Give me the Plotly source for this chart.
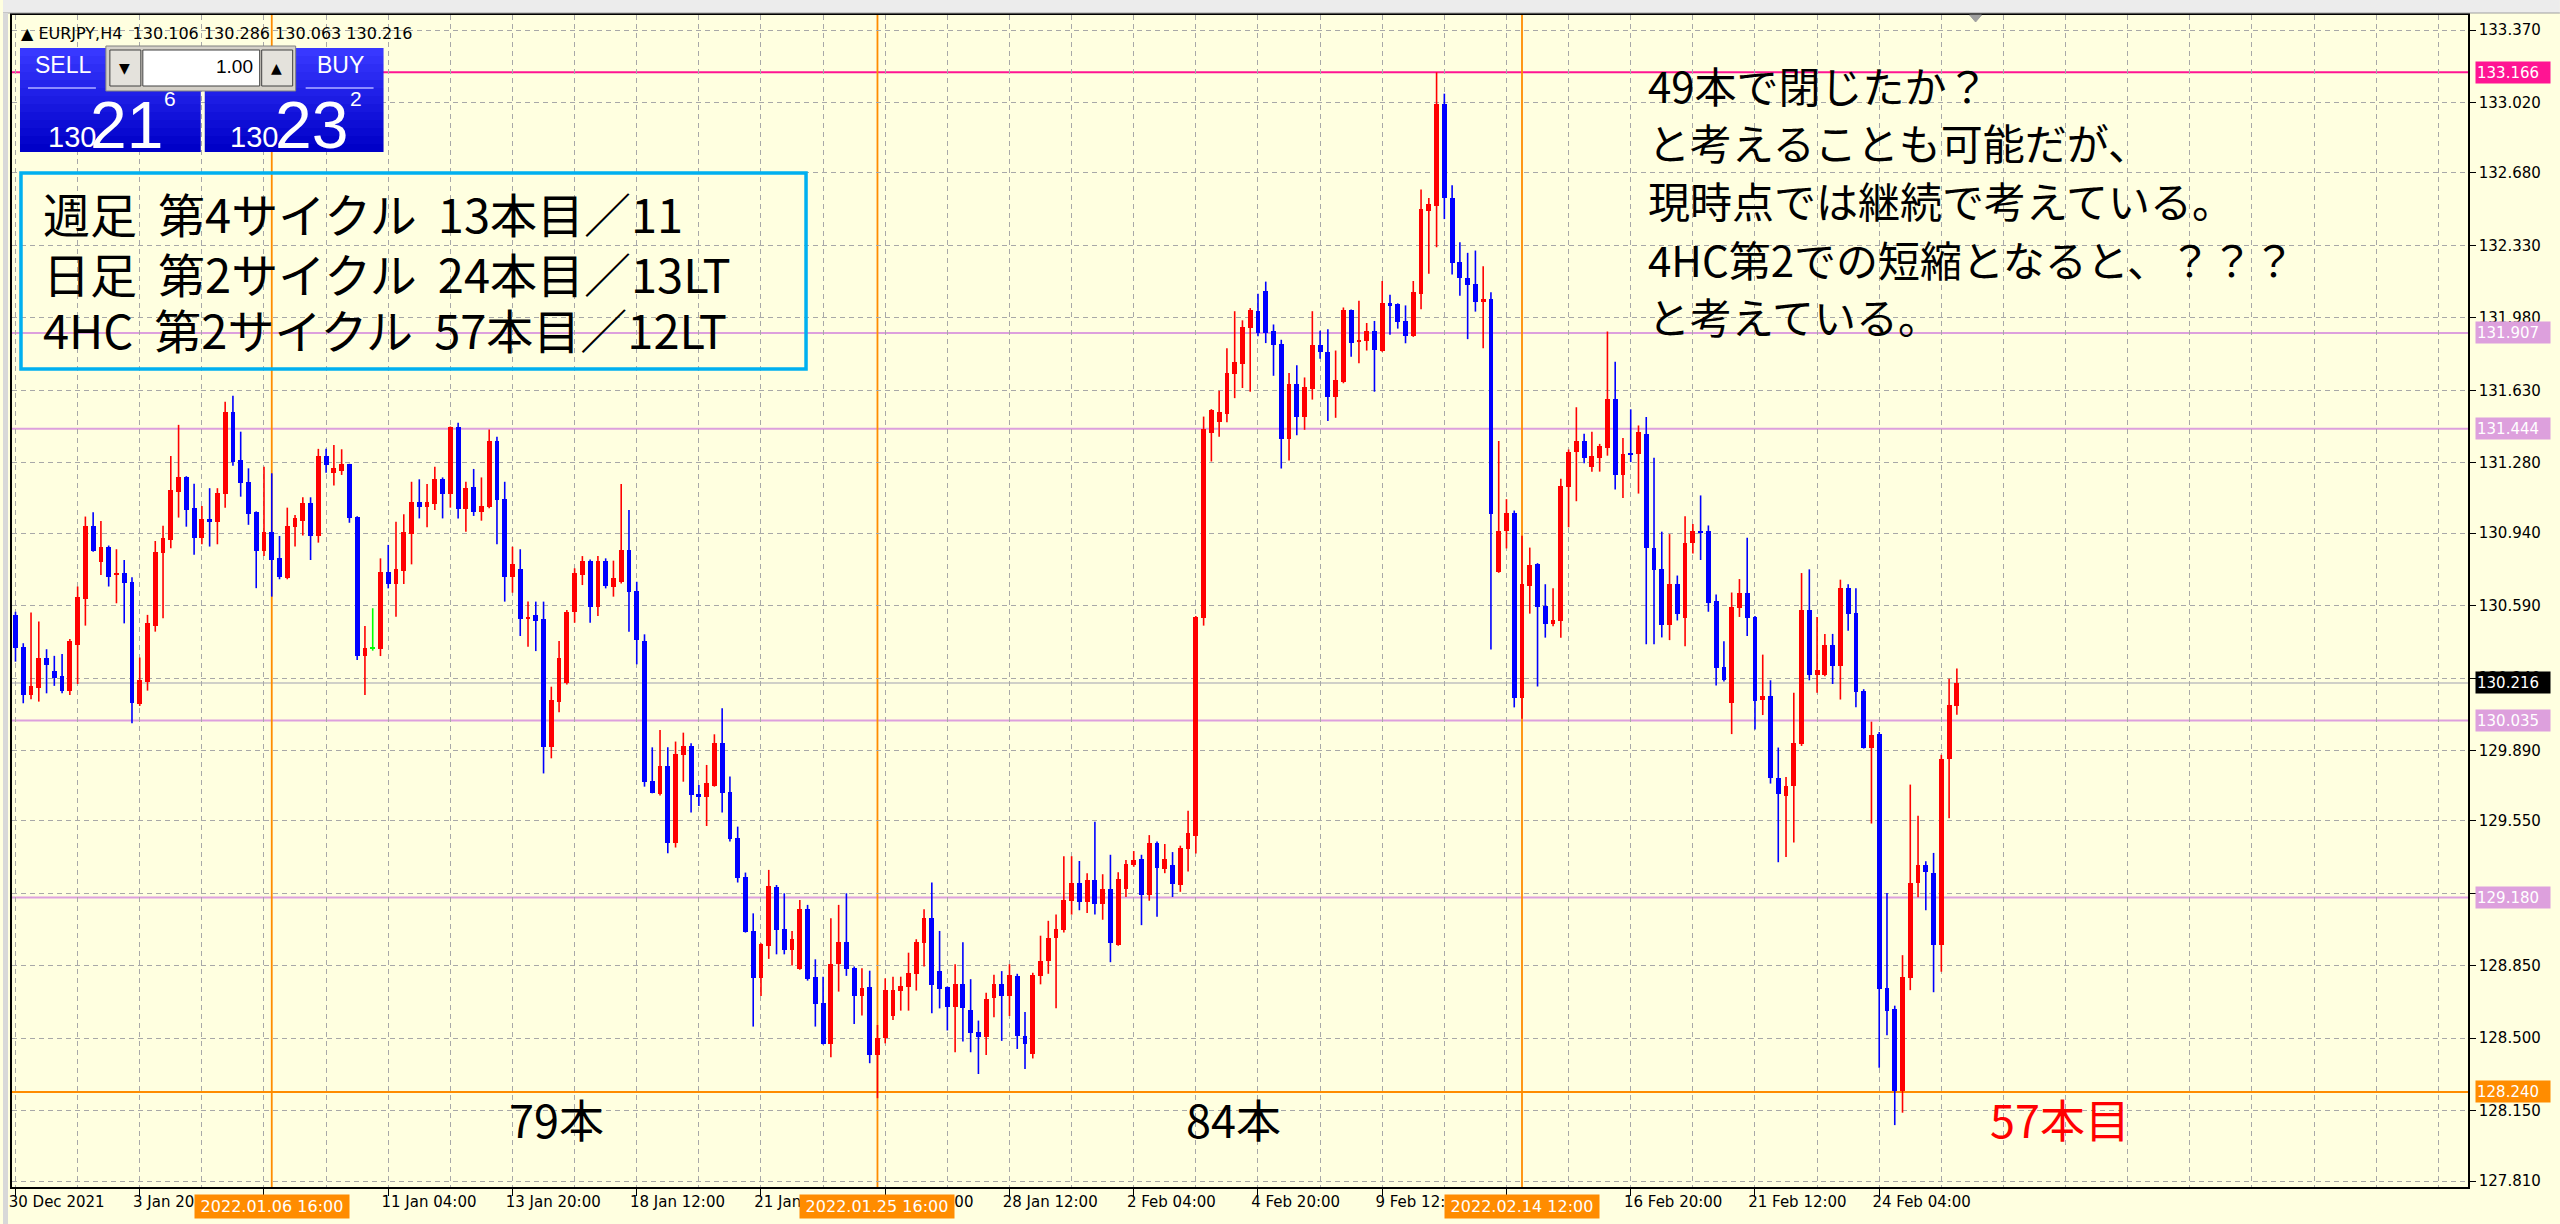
import plotly.graph_objects as go

# ------------------------------------------------------------------ data
bar_index = list(range(251))

opens = [
    130.545, 130.392, 130.158, 130.190, 130.335, 130.274, 130.252, 130.178, 130.400, 130.622,
    130.976, 130.802, 130.875, 130.742, 130.749, 130.706, 130.115, 130.223, 130.493, 130.843,
    130.907, 131.137, 131.210, 131.063, 130.918, 131.009, 130.992, 131.128, 131.527, 131.294,
    131.189, 131.041, 130.854, 130.947, 130.818, 130.722, 130.971, 131.000, 131.084, 130.928,
    131.313, 131.232, 131.240, 131.272, 131.019, 130.346, 130.383, 130.379, 130.754, 130.694,
    130.757, 130.936, 131.092, 131.064, 131.079, 131.200, 131.127, 131.451, 131.055, 131.164,
    131.044, 131.064, 131.387, 131.105, 130.730, 130.765, 130.528, 130.544, 130.523, 129.905,
    130.126, 130.214, 130.560, 130.738, 130.807, 130.581, 130.807, 130.678, 130.705, 130.858,
    130.660, 130.419, 129.744, 129.680, 129.817, 129.442, 129.868, 129.913, 129.680, 129.664,
    129.720, 129.925, 129.691, 129.469, 129.281, 129.018, 128.789, 128.947, 129.229, 129.028,
    128.926, 128.833, 129.123, 128.797, 128.669, 128.472, 128.859, 128.963, 128.838, 128.706,
    128.746, 128.419, 128.500, 128.607, 128.728, 128.749, 128.810, 128.958, 129.079, 128.826,
    128.746, 128.653, 128.762, 128.636, 128.532, 128.504, 128.696, 128.760, 128.704, 128.798,
    128.510, 128.423, 128.798, 128.875, 128.985, 129.021, 129.164, 129.251, 129.156, 129.264,
    129.149, 129.220, 128.952, 129.220, 129.335, 129.368, 129.190, 129.443, 129.317, 129.335,
    129.241, 129.412, 129.476, 130.532, 131.424, 131.475, 131.516, 131.707, 131.756, 131.930,
    132.012, 132.109, 131.917, 131.853, 131.393, 131.661, 131.500, 131.636, 131.848, 131.815,
    131.599, 131.670, 132.016, 131.863, 131.867, 131.914, 131.822, 132.050, 132.046, 131.965,
    131.894, 132.097, 132.498, 132.518, 133.012, 132.559, 132.250, 132.174, 132.144, 132.056,
    132.071, 130.754, 130.948, 131.039, 130.144, 130.683, 130.791, 130.586, 130.500, 130.515,
    131.161, 131.334, 131.385, 131.257, 131.304, 131.350, 131.588, 131.222, 131.324, 131.320,
    131.420, 130.866, 130.765, 130.498, 130.693, 130.528, 130.892, 130.947, 130.952, 130.610,
    130.293, 130.119, 130.578, 130.653, 130.535, 130.136, 130.154, 129.757, 129.670, 129.720,
    129.919, 130.568, 130.253, 130.253, 130.398, 130.298, 130.673, 130.553, 130.179, 129.904,
    129.969, 128.744, 128.639, 128.247, 128.789, 129.250, 129.338, 129.300, 128.951, 129.849,
    130.106,
]

highs = [
    130.560, 130.408, 130.556, 130.513, 130.379, 130.347, 130.356, 130.429, 130.682, 131.020,
    131.041, 130.999, 130.880, 130.862, 130.810, 130.727, 130.339, 130.545, 130.902, 130.976,
    131.313, 131.463, 131.215, 131.178, 131.071, 131.157, 131.157, 131.575, 131.603, 131.430,
    131.253, 131.045, 131.261, 131.229, 130.926, 131.063, 131.028, 131.113, 131.113, 131.347,
    131.347, 131.366, 131.345, 131.275, 131.022, 130.491, 130.577, 130.818, 130.883, 130.995,
    131.031, 131.188, 131.200, 131.177, 131.261, 131.209, 131.455, 131.473, 131.188, 131.250,
    131.209, 131.441, 131.406, 131.188, 130.874, 130.862, 130.609, 130.609, 130.609, 130.198,
    130.419, 130.569, 130.770, 130.829, 130.813, 130.829, 130.818, 130.807, 131.177, 131.052,
    130.705, 130.451, 129.905, 129.989, 129.905, 129.933, 129.976, 129.925, 129.723, 129.820,
    129.968, 130.094, 129.764, 129.522, 129.300, 129.103, 128.958, 129.313, 129.240, 129.200,
    129.018, 129.168, 129.144, 128.881, 128.797, 129.079, 129.144, 129.200, 128.846, 128.838,
    128.826, 128.564, 128.789, 128.797, 128.797, 128.913, 128.978, 129.123, 129.252, 129.018,
    128.750, 128.857, 128.963, 128.785, 128.585, 128.720, 128.806, 128.824, 128.857, 128.811,
    128.627, 128.816, 128.995, 129.067, 129.097, 129.379, 129.379, 129.356, 129.297, 129.545,
    129.292, 129.386, 129.302, 129.361, 129.404, 129.386, 129.481, 129.450, 129.438, 129.399,
    129.430, 129.599, 130.540, 131.503, 131.539, 131.628, 131.833, 132.012, 131.968, 132.027,
    132.096, 132.155, 131.948, 131.874, 131.713, 131.751, 131.692, 132.012, 131.917, 131.925,
    131.822, 132.030, 132.020, 132.062, 131.955, 131.965, 132.158, 132.091, 132.050, 132.040,
    132.158, 132.600, 132.559, 133.166, 133.063, 132.620, 132.345, 132.294, 132.305, 132.229,
    132.103, 131.385, 131.104, 131.049, 130.927, 130.870, 130.795, 130.693, 130.673, 131.202,
    131.344, 131.548, 131.420, 131.430, 131.371, 131.914, 131.768, 131.399, 131.538, 131.460,
    131.501, 131.304, 130.947, 130.935, 130.735, 131.022, 130.984, 131.122, 130.977, 130.643,
    130.418, 130.653, 130.718, 130.917, 130.540, 130.353, 130.229, 129.904, 129.762, 130.169,
    130.747, 130.765, 130.535, 130.453, 130.453, 130.715, 130.693, 130.673, 130.186, 130.029,
    129.979, 129.201, 128.657, 128.901, 129.725, 129.575, 129.355, 129.395, 129.869, 130.236,
    130.286,
]

lows = [
    130.319, 130.118, 130.137, 130.126, 130.166, 130.202, 130.166, 130.158, 130.211, 130.493,
    130.850, 130.738, 130.682, 130.601, 130.504, 130.021, 130.105, 130.179, 130.464, 130.529,
    130.867, 131.015, 130.971, 130.835, 130.886, 130.875, 130.886, 131.063, 131.265, 131.116,
    130.980, 130.674, 130.830, 130.633, 130.717, 130.717, 130.875, 130.928, 130.810, 130.894,
    131.232, 131.170, 131.221, 130.990, 130.327, 130.158, 130.372, 130.346, 130.673, 130.536,
    130.694, 130.789, 131.011, 130.968, 131.052, 131.011, 131.063, 131.011, 130.947, 131.023,
    131.000, 131.060, 130.886, 130.609, 130.652, 130.443, 130.391, 130.370, 129.779, 129.852,
    130.074, 130.209, 130.507, 130.689, 130.507, 130.540, 130.673, 130.633, 130.697, 130.464,
    130.306, 129.715, 129.683, 129.672, 129.393, 129.421, 129.739, 129.590, 129.622, 129.525,
    129.715, 129.590, 129.450, 129.252, 129.010, 128.556, 128.704, 128.883, 128.905, 128.905,
    128.851, 128.830, 128.778, 128.556, 128.470, 128.408, 128.725, 128.801, 128.569, 128.609,
    128.379, 128.210, 128.475, 128.588, 128.633, 128.633, 128.730, 128.846, 128.620, 128.644,
    128.537, 128.432, 128.484, 128.432, 128.327, 128.419, 128.601, 128.487, 128.607, 128.448,
    128.351, 128.402, 128.760, 128.811, 128.645, 129.011, 129.097, 129.118, 129.105, 129.097,
    129.072, 128.867, 128.947, 129.182, 129.328, 129.046, 129.164, 129.087, 129.297, 129.182,
    129.207, 129.305, 129.392, 130.493, 131.286, 131.406, 131.475, 131.592, 131.641, 131.623,
    131.891, 131.858, 131.700, 131.252, 131.291, 131.413, 131.439, 131.585, 131.782, 131.482,
    131.497, 131.664, 131.792, 131.761, 131.822, 131.623, 131.816, 131.898, 131.928, 131.857,
    131.888, 132.022, 132.193, 132.321, 132.457, 132.189, 132.087, 131.877, 132.010, 131.833,
    130.378, 130.748, 130.866, 130.098, 130.043, 130.551, 130.199, 130.435, 130.490, 130.435,
    130.968, 131.094, 131.277, 131.237, 131.237, 131.314, 131.151, 131.110, 131.283, 131.131,
    130.403, 130.403, 130.436, 130.423, 130.518, 130.393, 130.842, 130.810, 130.560, 130.204,
    130.223, 129.969, 130.535, 130.443, 129.991, 130.061, 129.730, 129.350, 129.375, 129.445,
    129.912, 130.229, 130.169, 130.248, 130.211, 130.136, 130.468, 130.099, 129.899, 129.537,
    128.357, 128.514, 128.080, 128.140, 128.732, 129.181, 129.118, 128.722, 128.821, 129.562,
    130.063,
]

closes = [
    130.384, 130.158, 130.199, 130.335, 130.303, 130.242, 130.178, 130.421, 130.630, 130.976,
    130.854, 130.875, 130.727, 130.747, 130.698, 130.118, 130.231, 130.504, 130.851, 130.915,
    131.149, 131.210, 131.052, 130.918, 131.009, 130.992, 131.136, 131.527, 131.285, 131.181,
    131.033, 130.854, 130.947, 130.810, 130.727, 130.976, 131.012, 131.084, 130.928, 131.313,
    131.269, 131.253, 131.272, 131.015, 130.346, 130.387, 130.383, 130.754, 130.694, 130.765,
    130.947, 131.092, 131.064, 131.092, 131.200, 131.127, 131.451, 131.055, 131.156, 131.044,
    131.071, 131.387, 131.100, 130.730, 130.789, 130.525, 130.533, 130.517, 129.905, 130.134,
    130.335, 130.560, 130.749, 130.807, 130.581, 130.807, 130.686, 130.721, 130.858, 130.654,
    130.424, 129.736, 129.686, 129.817, 129.441, 129.872, 129.913, 129.675, 129.664, 129.735,
    129.925, 129.683, 129.461, 129.272, 129.012, 128.789, 128.955, 129.237, 129.023, 128.926,
    128.978, 129.123, 128.785, 128.664, 128.472, 128.859, 128.963, 128.833, 128.706, 128.744,
    128.419, 128.500, 128.733, 128.733, 128.754, 128.817, 128.963, 129.079, 128.757, 128.736,
    128.653, 128.762, 128.644, 128.527, 128.504, 128.690, 128.762, 128.704, 128.806, 128.510,
    128.474, 128.806, 128.875, 128.985, 129.028, 129.169, 129.251, 129.156, 129.264, 129.149,
    129.220, 128.960, 129.271, 129.343, 129.361, 129.190, 129.443, 129.322, 129.368, 129.246,
    129.420, 129.489, 130.537, 131.444, 131.534, 131.526, 131.713, 131.769, 131.935, 132.019,
    131.909, 131.909, 131.848, 131.393, 131.661, 131.500, 131.644, 131.848, 131.815, 131.598,
    131.680, 132.020, 131.859, 131.873, 131.914, 131.826, 132.050, 132.036, 131.961, 131.894,
    132.103, 132.504, 132.528, 133.012, 132.559, 132.243, 132.172, 132.138, 132.056, 132.071,
    131.033, 130.948, 131.039, 130.144, 130.693, 130.785, 130.582, 130.500, 130.521, 131.167,
    131.334, 131.385, 131.304, 131.314, 131.359, 131.588, 131.222, 131.324, 131.320, 131.430,
    130.866, 130.761, 130.498, 130.693, 130.548, 130.892, 130.952, 130.942, 130.603, 130.286,
    130.229, 130.585, 130.653, 130.528, 130.129, 130.154, 129.757, 129.680, 129.720, 129.924,
    130.568, 130.253, 130.278, 130.398, 130.298, 130.673, 130.548, 130.174, 129.904, 129.967,
    128.739, 128.632, 128.247, 128.796, 129.250, 129.338, 129.305, 128.951, 129.849, 130.111,
    130.216,
]

x_tick_vals = [0, 16, 32, 48, 64, 80, 96, 112, 128, 144, 160, 176, 192, 208, 224, 240]
x_tick_text = ["30 Dec 2021", "3 Jan 20:00", "6 Jan 12:00", "11 Jan 04:00", "13 Jan 20:00",
               "18 Jan 12:00", "21 Jan 04:00", "25 Jan 20:00", "28 Jan 12:00", "2 Feb 04:00",
               "4 Feb 20:00", "9 Feb 12:00", "14 Feb 04:00", "16 Feb 20:00", "21 Feb 12:00",
               "24 Feb 04:00"]

y_tick_vals = [133.370, 133.020, 132.680, 132.330, 131.980, 131.630, 131.280, 130.940, 130.590,
               130.240, 129.890, 129.550, 129.200, 128.850, 128.500, 128.150, 127.810]
y_tick_text = [f"{v:.3f}" for v in y_tick_vals]

level_prices = [133.166, 131.907, 131.444, 130.035, 129.180, 128.240]
level_colors = ["#FF1493", "#DDA0DD", "#DDA0DD", "#DDA0DD", "#DDA0DD", "#FF8C00"]
current_price = 130.216

vline_bars = [33, 111, 194]
vline_labels = ["2022.01.06 16:00", "2022.01.25 16:00", "2022.02.14 12:00"]

header_text = "▲ EURJPY,H4  130.106 130.286 130.063 130.216"
box_lines = ["週足  第4サイクル  13本目／11",
             "日足  第2サイクル  24本目／13LT",
             "4HC  第2サイクル  57本目／12LT"]
note_lines = ["49本で閉じたか？",
              "と考えることも可能だが、",
              "現時点では継続で考えている。",
              "4HC第2での短縮となると、？？？",
              "と考えている。"]
count_labels = ["79本", "84本", "57本目"]

# ------------------------------------------------------------------ geometry
W, H = 2560, 1224
PL, PR, PT, PB = 9, 2468, 15, 1187
X_RANGE = [-0.45, 315.82]
Y_RANGE = [127.781, 133.443]


def px(x):
    return (x - PL) / (PR - PL)


def py(y):
    return (PB - y) / (PB - PT)


BG = "#FFFFE0"
GRID = "#A8A8A8"
UP, DN, DJ = "#FF0000", "#0000FF", "#00FF00"
ORANGE = "#FF8C00"
JP = "Noto Sans CJK JP"
UI = "DejaVu Sans"
NARROW = "Liberation Sans Narrow, Liberation Sans, Arial Narrow, sans-serif"

fig = go.Figure()

# ------------------------------------------------------------------ candles
body_color, body_base, body_len = [], [], []
for o, c in zip(opens, closes):
    body_color.append(UP if c > o else (DN if c < o else DJ))
    body_base.append(min(o, c))
    body_len.append(max(abs(c - o), 0.006))

for col in (UP, DN, DJ):
    xs, ys = [], []
    for i, h, l, bc in zip(bar_index, highs, lows, body_color):
        if bc == col:
            xs += [i, i, None]
            ys += [l, h, None]
    fig.add_trace(go.Scatter(x=xs, y=ys, mode="lines", line=dict(color=col, width=1.6),
                             hoverinfo="skip", showlegend=False))

fig.add_trace(go.Bar(x=bar_index, y=body_len, base=body_base, width=0.62,
                     marker=dict(color=body_color, line=dict(width=0)),
                     hoverinfo="skip", showlegend=False))

# ------------------------------------------------------------------ shapes
shapes = []
for p, col in zip(level_prices, level_colors):
    shapes.append(dict(type="line", xref="paper", x0=0, x1=1, yref="y", y0=p, y1=p,
                       line=dict(color=col, width=2), layer="between"))
shapes.append(dict(type="line", xref="paper", x0=0, x1=1, yref="y", y0=current_price,
                   y1=current_price, line=dict(color="#C0C0C0", width=1.5), layer="between"))
for b in vline_bars:
    shapes.append(dict(type="line", xref="x", x0=b, x1=b, yref="paper", y0=0, y1=1,
                       line=dict(color=ORANGE, width=1.8), layer="between"))


def rect(x0, y0, x1, y1, fill, line_color=None, lw=0):
    return dict(type="rect", xref="paper", yref="paper", x0=px(x0), x1=px(x1),
                y0=py(y1), y1=py(y0), fillcolor=fill,
                line=dict(color=line_color or fill, width=lw), layer="above")


# window chrome
shapes.append(rect(0, 0, W, 13, "#ECECEC"))
shapes.append(dict(type="line", xref="paper", yref="paper", x0=px(0), x1=px(W),
                   y0=py(13), y1=py(13), line=dict(color="#A0A0A0", width=1), layer="above"))
shapes.append(rect(0, 13, 5, H, "#D8D8D8"))
# chart shift marker
shapes.append(dict(type="path", xref="paper", yref="paper", layer="above",
                   path=f"M {px(1969)},{py(15)} L {px(1981)},{py(15)} L {px(1975)},{py(22)} Z",
                   fillcolor="#A0A0A0", line=dict(color="#A0A0A0", width=1)))

# one-click trading panel: gradient blue boxes
steps = 13
for k in range(steps):
    y0 = 48 + k * 8
    y1 = y0 + 8
    t = k / (steps - 1)
    r = int(56 * (1 - t))
    g = int(56 * (1 - t))
    bl = int(255 - 55 * t)
    col = f"rgb({r},{g},{bl})"
    shapes.append(rect(17, y0, 198, y1, col))
    shapes.append(rect(202, y0, 381, y1, col))
shapes.append(dict(type="line", xref="paper", yref="paper", x0=px(25), x1=px(93), y0=py(88),
                   y1=py(88), line=dict(color="#8C8CFF", width=2), layer="above"))
shapes.append(dict(type="line", xref="paper", yref="paper", x0=px(303), x1=px(371), y0=py(88),
                   y1=py(88), line=dict(color="#8C8CFF", width=2), layer="above"))
# lot control
shapes.append(rect(103, 46, 293, 91, "#D4D0C8", "#808080", 1))
shapes.append(rect(107, 50, 138, 86, "#E4E2DC", "#404040", 1))
shapes.append(rect(140, 50, 257, 86, "#FFFFFF", "#404040", 1))
shapes.append(rect(259, 50, 290, 86, "#E4E2DC", "#404040", 1))

# cyan text box
shapes.append(dict(type="rect", xref="paper", yref="paper", x0=px(18), x1=px(804),
                   y0=py(369), y1=py(173), fillcolor="rgba(0,0,0,0)",
                   line=dict(color="#00B0F0", width=3.5), layer="above"))

# ------------------------------------------------------------------ annotations
ann = []


def txt(x, y, text, size, color="black", family=JP, xanchor="left", yanchor="middle", **kw):
    d = dict(xref="paper", yref="paper", x=px(x), y=py(y), text=text, showarrow=False,
             xanchor=xanchor, yanchor=yanchor, font=dict(family=family, size=size, color=color))
    d.update(kw)
    return d


# right-axis price tags
for p, col in zip(level_prices, level_colors):
    ann.append(dict(xref="paper", x=1, xanchor="left", xshift=7, yref="y", y=p, yanchor="middle",
                    text=f"{p:.3f}", showarrow=False, bgcolor=col, width=72, height=19,
                    borderpad=1, align="left", font=dict(family=UI, size=15, color="white")))
ann.append(dict(xref="paper", x=1, xanchor="left", xshift=7, yref="y", y=current_price,
                yanchor="middle", text=f"{current_price:.3f}", showarrow=False, bgcolor="black",
                width=72, height=19, borderpad=1, align="left",
                font=dict(family=UI, size=15, color="white")))

# date tags under the vertical lines
for b, lab in zip(vline_bars, vline_labels):
    ann.append(dict(xref="x", x=b, xanchor="center", yref="paper", y=py(1206), yanchor="middle",
                    text=lab, showarrow=False, bgcolor=ORANGE, width=152, height=21,
                    borderpad=1, font=dict(family=UI, size=16, color="white")))

# header
ann.append(txt(16, 33, header_text, 16, family=UI))

# panel texts
ann.append(txt(60, 65, "SELL", 23, "white", NARROW, xanchor="center"))
ann.append(txt(338, 65, "BUY", 23, "white", NARROW, xanchor="center"))
ann.append(txt(122, 68, "▼", 14, "black", UI, xanchor="center"))
ann.append(txt(274, 68, "▲", 14, "black", UI, xanchor="center"))
ann.append(txt(252, 66, "1.00", 19, "black", NARROW, xanchor="right"))
ann.append(txt(69, 137, "130", 29, "white", NARROW, xanchor="center"))
ann.append(txt(124, 125, "21", 66, "white", NARROW, xanchor="center"))
ann.append(txt(167, 99, "6", 21, "white", NARROW, xanchor="center"))
ann.append(txt(251, 137, "130", 29, "white", NARROW, xanchor="center"))
ann.append(txt(309, 125, "23", 66, "white", NARROW, xanchor="center"))
ann.append(txt(353, 99, "2", 21, "white", NARROW, xanchor="center"))

# cyan box lines
for line, yc in zip(box_lines, [213, 272, 328]):
    ann.append(txt(38, yc, line, 47))

# note block
for line, yc in zip(note_lines, [84, 141, 200, 258, 315]):
    ann.append(txt(1645, yc, line, 42))

# bar counts
for lab, xc, col in zip(count_labels, [554, 1232, 2060], ["black", "black", "#FF0000"]):
    ann.append(txt(xc, 1118, lab, 45, col, xanchor="center"))

# ------------------------------------------------------------------ layout
minor_vals = [v for v in range(0, 320, 8) if v not in x_tick_vals]

fig.update_layout(
    width=W, height=H, autosize=False,
    margin=dict(l=PL, r=W - PR, t=PT, b=H - PB, pad=0),
    paper_bgcolor=BG, plot_bgcolor=BG,
    showlegend=False, bargap=0,
    shapes=shapes, annotations=ann,
    xaxis=dict(range=X_RANGE, tickmode="array", tickvals=x_tick_vals, ticktext=x_tick_text,
               ticks="outside", ticklen=7, tickwidth=1, tickcolor="black",
               ticklabelposition="outside right", ticklabelshift=-8,
               tickfont=dict(family=UI, size=15, color="black"),
               showgrid=True, gridcolor=GRID, griddash="5px,4px", gridwidth=1,
               minor=dict(tickvals=minor_vals, showgrid=True, gridcolor=GRID,
                          griddash="5px,4px", gridwidth=1, ticks=""),
               showline=True, linecolor="black", linewidth=1.5, mirror=True,
               zeroline=False, fixedrange=True),
    yaxis=dict(range=Y_RANGE, side="right", tickmode="array", tickvals=y_tick_vals,
               ticktext=y_tick_text, ticks="outside", ticklen=6, tickwidth=1,
               tickcolor="black", tickfont=dict(family=UI, size=15, color="black"),
               showgrid=True, gridcolor=GRID, griddash="5px,4px", gridwidth=1,
               showline=True, linecolor="black", linewidth=1.5, mirror=True,
               zeroline=False, fixedrange=True),
)

fig.write_html("out.html", config={"displayModeBar": False},
               post_script="document.body.style.margin='0';document.body.style.overflow='hidden';")
